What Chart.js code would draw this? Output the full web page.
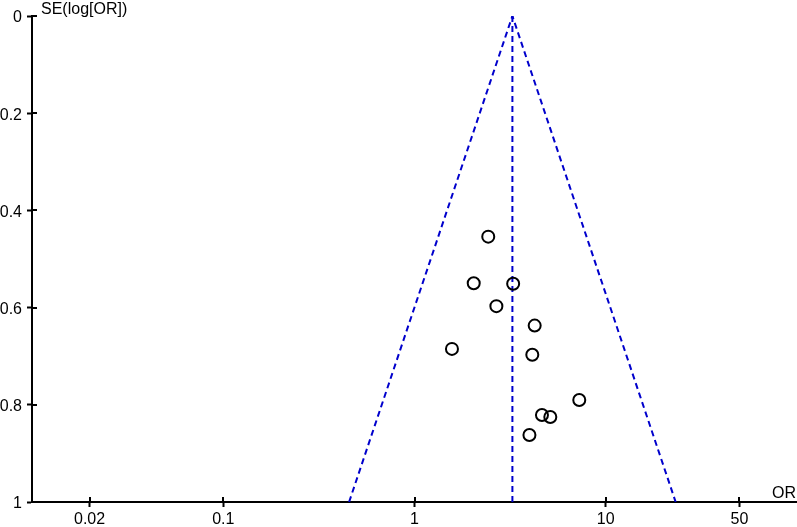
<!DOCTYPE html>
<html>
<head>
<meta charset="utf-8">
<script src="https://cdn.jsdelivr.net/npm/chart.js@4"></script>
<style>
  html, body { margin: 0; padding: 0; background: #fff; }
  #wrap { width: 797px; height: 527px; position: relative; }
</style>
</head>
<body>
<div id="wrap"><canvas id="funnel"></canvas></div>
<script>
// study estimates (odds ratio, standard error of log OR)
const studyOR = [2.43, 2.04, 3.28, 2.68, 4.25, 1.57, 4.13, 7.27, 4.64, 5.13, 3.99];
const studySE = [0.454, 0.550, 0.551, 0.597, 0.637, 0.685, 0.697, 0.790, 0.821, 0.825, 0.862];

// pooled estimate and 95% pseudo-confidence limits at SE = 1
const pooledOR = 3.25;
const funnelOR = [0.455, 3.25, 23.2];
const funnelSE = [1, 0, 1];

// axis ticks
const xTicks = [0.02, 0.1, 1, 10, 50];
const yTicks = [0, 0.2, 0.4, 0.6, 0.8, 1];

const FONT = { family: 'Arial, "Liberation Sans", sans-serif', size: 16 };
const BLUE = '#0000cc';

// draws the inner half of the tick marks and the two axis captions
const axisExtras = {
    id: 'axisExtras',
    afterDraw(chart) {
        const ctx = chart.ctx;
        const area = chart.chartArea;
        const xs = chart.scales.x;
        const ys = chart.scales.y;
        ctx.save();
        ctx.strokeStyle = '#000';
        ctx.lineWidth = 2;
        xTicks.forEach(v => {
            const px = Math.round(xs.getPixelForValue(v));
            ctx.beginPath();
            ctx.moveTo(px, area.bottom);
            ctx.lineTo(px, area.bottom - 5);
            ctx.stroke();
        });
        yTicks.forEach(v => {
            const py = Math.round(ys.getPixelForValue(v));
            ctx.beginPath();
            ctx.moveTo(area.left, py);
            ctx.lineTo(area.left + 5, py);
            ctx.stroke();
        });
        ctx.fillStyle = '#000';
        ctx.font = FONT.size + 'px ' + FONT.family;
        ctx.textBaseline = 'alphabetic';
        ctx.textAlign = 'left';
        ctx.fillText('SE(log[OR])', area.left + 9, area.top - 2);
        ctx.textAlign = 'right';
        ctx.fillText('OR', area.right - 1, area.bottom - 4);
        ctx.restore();
    }
};

const ctx = document.getElementById('funnel').getContext('2d');
new Chart(ctx, {
    type: 'scatter',
    data: {
        datasets: [
            {
                label: 'Studies',
                data: studyOR.map((or, i) => ({ x: or, y: studySE[i] })),
                pointStyle: 'circle',
                pointRadius: 6,
                pointBorderWidth: 2,
                pointBorderColor: '#000',
                pointBackgroundColor: 'rgba(255,255,255,0)',
                showLine: false,
                order: 0
            },
            {
                label: 'Pseudo 95% CI',
                data: funnelOR.map((or, i) => ({ x: or, y: funnelSE[i] })),
                showLine: true,
                borderColor: BLUE,
                borderWidth: 2,
                borderDash: [6, 4],
                pointRadius: 0,
                fill: false,
                order: 1
            },
            {
                label: 'Pooled',
                data: [{ x: pooledOR, y: 0 }, { x: pooledOR, y: 1 }],
                showLine: true,
                borderColor: BLUE,
                borderWidth: 2,
                borderDash: [6, 4],
                pointRadius: 0,
                fill: false,
                order: 1
            }
        ]
    },
    plugins: [axisExtras],
    options: {
        responsive: true,
        maintainAspectRatio: false,
        animation: false,
        layout: { autoPadding: false, padding: { top: 16, right: 0, left: 0, bottom: 0 } },
        plugins: {
            legend: { display: false },
            tooltip: { enabled: false }
        },
        scales: {
            x: {
                type: 'logarithmic',
                min: 0.01,
                max: 100,
                afterBuildTicks: scale => { scale.ticks = xTicks.map(v => ({ value: v })); },
                afterFit: scale => {
                    scale.height = 25;
                    scale.paddingLeft = 0;
                    scale.paddingRight = 0;
                },
                grid: { drawOnChartArea: false, tickLength: 5, tickWidth: 2, tickColor: '#000' },
                border: { display: true, color: '#000', width: 2 },
                ticks: {
                    color: '#000',
                    font: FONT,
                    padding: 3,
                    maxRotation: 0,
                    autoSkip: false,
                    callback: v => String(v)
                }
            },
            y: {
                type: 'linear',
                reverse: true,
                min: 0,
                max: 1,
                afterBuildTicks: scale => { scale.ticks = yTicks.map(v => ({ value: v })); },
                afterFit: scale => {
                    scale.width = 32;
                    scale.paddingTop = 0;
                    scale.paddingBottom = 0;
                },
                grid: { drawOnChartArea: false, tickLength: 5, tickWidth: 2, tickColor: '#000' },
                border: { display: true, color: '#000', width: 2 },
                ticks: {
                    color: '#000',
                    font: FONT,
                    padding: 5,
                    labelOffset: 2,
                    autoSkip: false,
                    callback: v => String(Math.round(v * 10) / 10)
                }
            }
        }
    }
});
</script>
</body>
</html>
